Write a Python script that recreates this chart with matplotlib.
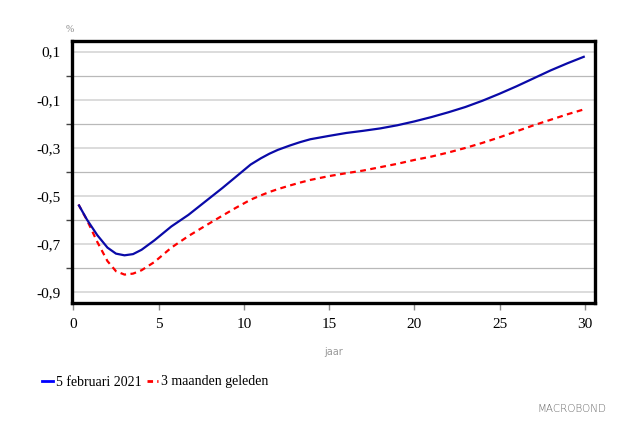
import matplotlib
matplotlib.use("Agg")
import matplotlib.pyplot as plt
from matplotlib.lines import Line2D

# ---- data ----
maturity = [0.3, 0.8, 1.4, 2, 2.5, 3, 3.5, 4, 4.75, 5.75, 6.75, 7.75, 8.75,
            9.5, 10.4, 11, 11.5, 12, 12.7, 13.3, 13.9, 15, 16, 17, 18, 19, 20,
            21, 22, 23, 24, 25, 26, 27, 28, 29, 30]
feb_2021 = [-0.535, -0.598, -0.662, -0.714, -0.739, -0.746, -0.741, -0.723,
            -0.684, -0.626, -0.578, -0.522, -0.466, -0.422, -0.369, -0.343,
            -0.324, -0.308, -0.290, -0.276, -0.264, -0.250, -0.238, -0.229,
            -0.219, -0.206, -0.190, -0.172, -0.152, -0.130, -0.104, -0.075,
            -0.044, -0.011, 0.022, 0.052, 0.080]
three_months_ago = [-0.535, -0.600, -0.690, -0.770, -0.812, -0.826, -0.822,
                    -0.808, -0.774, -0.714, -0.666, -0.623, -0.581, -0.550,
                    -0.515, -0.497, -0.483, -0.471, -0.456, -0.444, -0.433,
                    -0.417, -0.405, -0.394, -0.380, -0.366, -0.350, -0.336,
                    -0.319, -0.300, -0.279, -0.256, -0.231, -0.206, -0.183,
                    -0.160, -0.139]
series_labels = ["5 februari 2021", "3 maanden geleden"]
x_ticks = [0, 5, 10, 15, 20, 25, 30]
x_ticklabels = ["0", "5", "10", "15", "20", "25", "30"]
y_major = [0.1, -0.1, -0.3, -0.5, -0.7, -0.9]
y_major_labels = ["0,1", "-0,1", "-0,3", "-0,5", "-0,7", "-0,9"]
y_minor = [0.0, -0.2, -0.4, -0.6, -0.8]

serif = ["Liberation Serif", "DejaVu Serif"]

fig = plt.figure(figsize=(6.38, 4.47), dpi=100)
ax = fig.add_axes([72 / 638, 1 - 303 / 447, (595 - 72) / 638, (303 - 41) / 447])

ax.set_xlim(-0.08, 30.6)
ax.set_ylim(-0.944, 0.144)

# gridlines
for v in y_major:
    ax.axhline(v, color="#dcdcdc", lw=1.4, zorder=1)
for v in y_minor:
    ax.axhline(v, color="#b9b9b9", lw=0.9, zorder=1)

ax.plot(maturity, feb_2021, color="#0a0aa8", lw=1.6, zorder=3,
        solid_capstyle="butt", solid_joinstyle="round")
ax.plot(maturity, three_months_ago, color="#ff0000", lw=1.6, zorder=2,
        dashes=(2.6, 2.0))

for s in ax.spines.values():
    s.set_linewidth(2.4)
    s.set_color("black")
    s.set_zorder(5)

ax.set_xticks(x_ticks)
ax.set_xticklabels(x_ticklabels, fontfamily=serif, fontsize=11)
ax.tick_params(axis="x", which="major", direction="out", length=5,
               width=1, color="#8c8c8c", pad=6)

ax.set_yticks(y_major)
ax.set_yticklabels(y_major_labels, fontfamily=serif, fontsize=11)
ax.set_yticks(y_minor, minor=True)
ax.tick_params(axis="y", which="major", length=0, pad=8)
ax.tick_params(axis="y", which="minor", direction="out", length=4,
               width=1, color="#444444")

# small labels
fig.text(70 / 638, 1 - 29 / 447, "%", color="#888888", fontsize=7,
         ha="center", va="center", fontfamily=serif)
fig.text(334 / 638, 1 - 352 / 447, "jaar", color="#999999", fontsize=7,
         ha="center", va="center")

handles = [Line2D([], [], color="#0000ff", lw=2),
           Line2D([], [], color="#ff0000", lw=2, dashes=(2, 1.5))]
fig.legend(handles, series_labels, loc="center left",
           bbox_to_anchor=(42 / 638, 1 - 382 / 447), ncol=2, frameon=False,
           handlelength=0.8, handletextpad=0.2, columnspacing=0.4,
           borderpad=0, borderaxespad=0,
           prop={"family": serif, "size": 10})

fig.text(606 / 638, 1 - 409 / 447, "MACROBOND", color="#666666", fontsize=7.5,
         ha="right", va="center", fontweight="light")

fig.savefig("out.png", dpi=100, facecolor="white")
